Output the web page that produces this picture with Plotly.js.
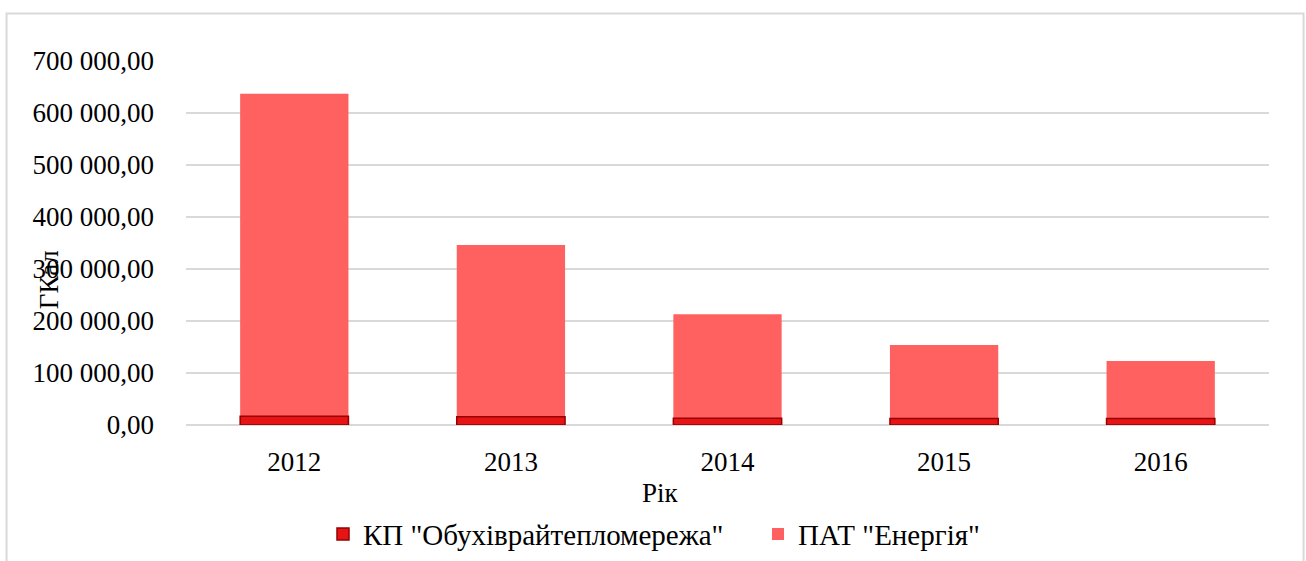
<!DOCTYPE html>
<html>
<head>
<meta charset="utf-8">
<script src="https://cdn.plot.ly/plotly-3.0.1.min.js"></script>
<style>
  html, body { margin: 0; padding: 0; background: #fff; }
  #chart { width: 1306px; height: 561px; }
</style>
</head>
<body>
<div id="chart"></div>
<script>
var years = ['2012', '2013', '2014', '2015', '2016'];
var patEnergy = [637000, 346000, 213000, 154000, 123000];
var kpObukhiv = [17000, 16000, 13000, 12500, 12500];

var font = '"Liberation Serif", "Times New Roman", serif';

// PAT goes first so KP is painted on top of it (overlay mode)
var pat = {
	x: years,
	y: patEnergy,
	type: 'bar',
	name: 'ПАТ "Енергія"',
	width: 0.5,
	legendrank: 2,
	marker: { color: 'rgb(255, 97, 97)' },
	hoverinfo: 'x+y+name'
};

var kp = {
	x: years,
	y: kpObukhiv,
	type: 'bar',
	name: 'КП "Обухіврайтепломережа"',
	width: 0.5,
	legendrank: 1,
	marker: {
		color: 'rgb(230, 20, 20)',
		line: { color: 'rgb(150, 0, 0)', width: 1.5 }
	},
	hoverinfo: 'x+y+name'
};

var layout = {
	width: 1306,
	height: 561,
	margin: { l: 186, r: 37, t: 61, b: 136, autoexpand: false },
	paper_bgcolor: '#fff',
	plot_bgcolor: '#fff',
	barmode: 'overlay',
	separators: ', ',
	font: { family: font, size: 27, color: '#000' },
	showlegend: true,
	legend: {
		orientation: 'h',
		x: 0.1265,
		xanchor: 'left',
		y: -0.23,
		yanchor: 'top',
		font: { family: font, size: 29, color: '#000' },
		itemwidth: 30,
		entrywidth: 390,
		entrywidthmode: 'pixels'
	},
	xaxis: {
		type: 'category',
		showgrid: false,
		showline: false,
		ticks: '',
		ticklabelstandoff: 18,
		tickfont: { family: font, size: 27 },
		zeroline: false,
		automargin: false
	},
	yaxis: {
		range: [0, 700000],
		dtick: 100000,
		tickformat: ',.2f',
		tickfont: { family: font, size: 27 },
		ticklabelstandoff: 31,
		showgrid: true,
		gridcolor: '#d9d9d9',
		gridwidth: 2,
		zeroline: true,
		zerolinecolor: '#d9d9d9',
		zerolinewidth: 2,
		ticks: '',
		automargin: false
	},
	annotations: [
		{
			text: 'ГКал',
			xref: 'paper', yref: 'paper',
			x: -0.1265, y: 0.398,
			xanchor: 'center', yanchor: 'middle',
			textangle: -90,
			showarrow: false,
			font: { family: font, size: 27, color: '#000' }
		},
		{
			text: 'Рік',
			xref: 'paper', yref: 'paper',
			x: 0.438, y: -0.187,
			xanchor: 'center', yanchor: 'middle',
			showarrow: false,
			font: { family: font, size: 27, color: '#000' }
		}
	],
	shapes: [
		{
			type: 'rect',
			xref: 'paper', yref: 'paper',
			x0: -0.1657, x1: 1.0319,
			y0: -0.6, y1: 1.1305,
			line: { color: '#d9d9d9', width: 2 },
			fillcolor: 'rgba(0,0,0,0)',
			layer: 'below'
		}
	]
};

var config = { displayModeBar: false, staticPlot: true };

Plotly.newPlot('chart', [pat, kp], layout, config);
</script>
</body>
</html>
